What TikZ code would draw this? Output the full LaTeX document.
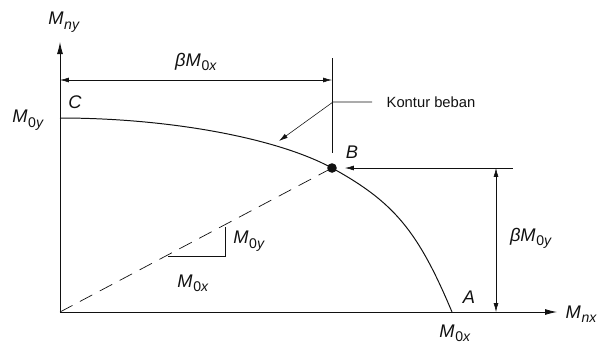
\documentclass[tikz,border=0pt]{standalone}
\usepackage{fontspec}
\setmainfont{Liberation Sans}
\usetikzlibrary{arrows.meta,calc}
\definecolor{ink}{HTML}{111111}
\tikzset{
  >={Latex[length=2.2mm,width=1.2mm]}, font=\fontsize{10.5}{12}\selectfont,
  axis/.style={-{Latex[length=3mm,width=1.5mm]}, line width=0.6pt, draw=ink},
  dim/.style={line width=0.4pt, draw=ink},
  contour/.style={line width=0.7pt, draw=ink},
  radial/.style={line width=0.5pt, draw=ink, dash pattern=on 10pt off 6pt},
  lab/.style={text=ink, inner sep=1pt},
  mlab/.style={lab, font=\fontsize{13}{15}\selectfont},
  dot/.style={circle, fill=ink, inner sep=0pt, minimum size=2.4mm},
}
\newcommand\mom[1]{\textit{M}\kern0.5pt\raisebox{-0.45ex}{\fontsize{10}{11}\selectfont #1}}

\begin{document}
\begin{tikzpicture}[x=0.025cm, y=-0.025cm]
  \useasboundingbox (0,0) rectangle (598,345);
  % axes
  \coordinate (O) at (60,312);
  \coordinate (Ytop) at (60,42);
  \coordinate (Xend) at (557,312);
  \draw[axis] (O) -- (Ytop);
  \draw[axis] (O) -- (Xend);
  \node[mlab] (lMny) at (64,22) {\mom{\textit{ny}}};
  \node[mlab, anchor=west] (lMnx) at (564,314) {\mom{\textit{nx}}};
  % load contour
  \coordinate (C) at (60,118);
  \coordinate (B) at (332,168);
  \coordinate (A) at (452,312);
  \draw[contour] (C) .. controls (169,118) and (277,138) .. (B)
                     .. controls (394,202) and (418,231) .. (A);
  \draw[radial] (O) -- (B);
  \node[dot] (Bdot) at (B) {};
  \node[mlab] (lC) at (75,102) {\textit{C}};
  \node[mlab] (lB) at (352,152) {\textit{B}};
  \node[mlab] (lA) at (469,297) {\textit{A}};
  \node[mlab] (lM0y) at (28,120) {\mom{0\textit{y}}};
  \node[mlab] (lM0x) at (455,333) {\mom{0\textit{x}}};
  % dimension beta M0x
  \coordinate (tickT) at (332,58);
  \coordinate (tickB) at (332,153);
  \coordinate (dimL) at (60,80);
  \coordinate (dimR) at (332,80);
  \draw[dim] (tickT) -- (tickB);
  \draw[dim, <->] (dimL) -- (dimR);
  \node[mlab] (lbx) at (196,62) {\textit{β}\mom{0\textit{x}}};
  % dimension beta M0y
  \coordinate (extL) at (345,168);
  \coordinate (extR) at (513,168);
  \coordinate (dimT) at (496,168);
  \coordinate (dimB) at (496,312);
  \draw[dim, <-] (extL) -- (extR);
  \draw[dim, <->] (dimB) -- (dimT);
  \node[mlab] (lby) at (531,238) {\textit{β}\mom{0\textit{y}}};
  % leader
  \coordinate (leadE) at (372,102);
  \coordinate (kink) at (333,102);
  \coordinate (leadTip) at (279,141);
  \draw[dim, ->] (leadE) -- (kink) -- (leadTip);
  \node[lab, anchor=west] (lkontur) at (385,102) {Kontur beban};
  % slope triangle
  \coordinate (s1) at (168,256);
  \coordinate (s2) at (225,256);
  \coordinate (s3) at (225,227);
  \draw[dim] (s1) -- (s2) -- (s3);
  \node[mlab] (lsy) at (249,241) {\mom{0\textit{y}}};
  \node[mlab] (lsx) at (193,283) {\mom{0\textit{x}}};
\end{tikzpicture}
\end{document}
